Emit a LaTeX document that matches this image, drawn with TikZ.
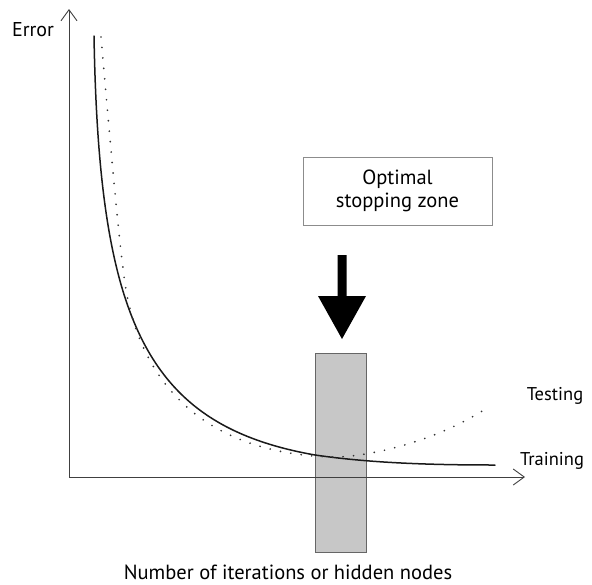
\documentclass[tikz,border=0pt]{standalone}
\usepackage{fontspec}
\setmainfont{PT Sans}
\usetikzlibrary{arrows.meta}
\begin{document}
\begin{tikzpicture}[x=1pt,y=-1pt,
  axis/.style={draw=black!75, line width=0.9pt,
    -{Straight Barb[length=11pt,width=16pt,line width=0.9pt]}},
  lbl/.style={font=\fontsize{20.5}{23}\selectfont, inner sep=0pt, text=black},
  sidelbl/.style={lbl, font=\fontsize{18.5}{22}\selectfont},
  zonebar/.style={draw=black!60, fill=black!22, line width=0.8pt, inner sep=0pt,
    minimum width=51pt, minimum height=199pt},
  notebox/.style={draw=black!45, fill=white, line width=0.8pt, inner sep=0pt,
    minimum width=189pt, minimum height=68pt, align=center,
    font=\fontsize{20.5}{22.5}\selectfont, text=black},
  bigarrow/.style={fill=black},
  training/.style={draw=black!90, line width=1.5pt, line cap=round},
  testing/.style={draw=black!80, line width=1.9pt, line cap=round,
    dash pattern=on 0pt off 10.5pt}
]
\useasboundingbox (0,0) rectangle (592,584);

% shaded stopping region
\node[zonebar] (zone) at (340.5,452.5) {};

% axes
\coordinate (o) at (69,477);
\coordinate (ytop) at (69,9);
\coordinate (xend) at (525,477);
\draw[axis] (o) -- (ytop);
\draw[axis] (o) -- (xend);

% labels
\node[lbl, font=\fontsize{20}{23}\selectfont] (err) at (33,30) {Error};
\node[sidelbl] (test) at (555,396) {Testing};
\node[sidelbl] (train) at (552,461) {Training};
\node[lbl] (cap) at (288,572) {Number of iterations or hidden nodes};

% callout box and arrow
\node[notebox] (opt) at (397.5,191) {Optimal\\stopping zone};
\fill[bigarrow] (337.5,255) -- (346.5,255) -- (346.5,296) -- (366,296)
  -- (342,339) -- (318,296) -- (337.5,296) -- cycle;

% training error
\draw[training] (94,36) .. controls (99,320) and (145,425) .. (315,455)
  .. controls (370,463) and (430,465) .. (495,465);

% testing error
\draw[testing] (101,37) .. controls (110,140) and (118,230) .. (123,268)
  .. controls (127,300) and (140,450) .. (330,457)
  .. controls (360,458) and (430,445) .. (487,408);
\end{tikzpicture}
\end{document}
